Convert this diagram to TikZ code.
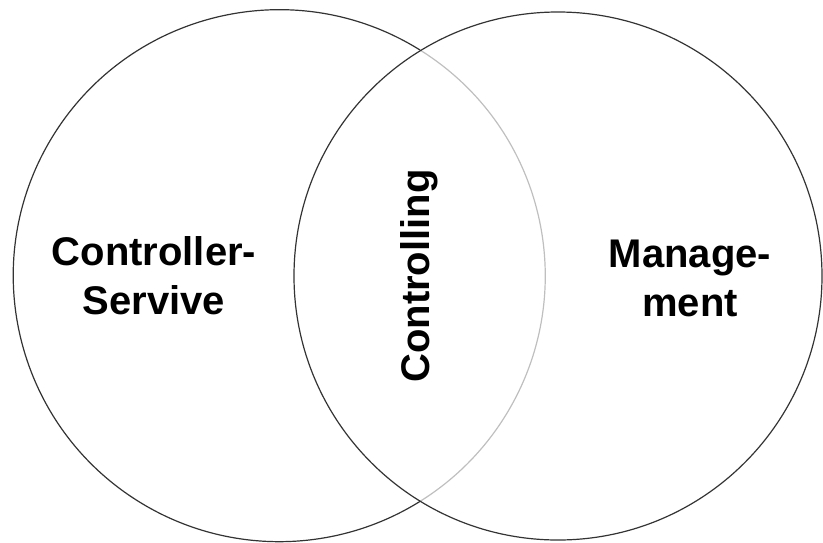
\documentclass[tikz,border=0pt]{standalone}
\usepackage{fontspec}
\setmainfont{Liberation Sans}
\begin{document}
\begin{tikzpicture}[x=1pt,y=-1pt,
  lbl/.style={font=\bfseries\fontsize{40}{49}\selectfont, align=center, inner sep=0pt},
  ring/.style={line width=1.2pt, draw=black!80}]
\useasboundingbox (0,0) rectangle (823,542);
% left circle: outer arc dark, inner arc light
\coordinate (lc) at (279,276);
\coordinate (rc) at (558,276);
\draw[ring] (420,50) arc[start angle=-58.05, end angle=-301.95, radius=266];
\draw[line width=1.2pt, draw=black!25] (420,50) arc[start angle=-58.05, end angle=58.05, radius=266];
\draw[ring] (rc) circle[radius=264];
\node[lbl] (cs) at (154,276) {Controller-\\Servive};
\node[lbl] (mg) at (690,278) {Manage-\\ment};
\node[lbl, rotate=90] (ct) at (419,276) {Controlling};
\end{tikzpicture}
\end{document}
